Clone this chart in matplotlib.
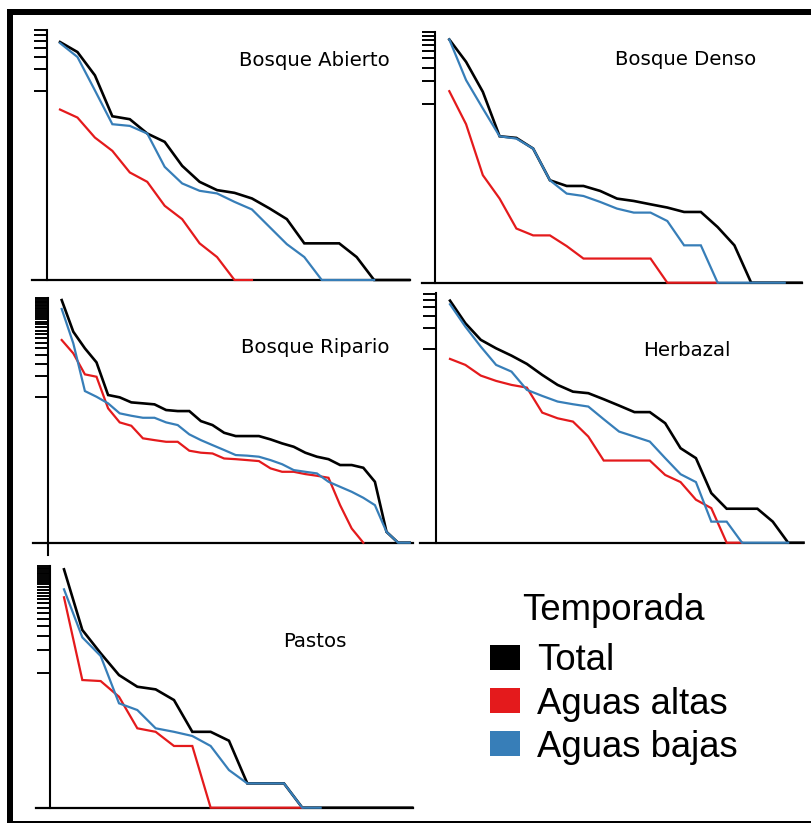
import matplotlib
matplotlib.use("Agg")
import matplotlib.pyplot as plt
import matplotlib.transforms as mtransforms
from matplotlib.patches import Patch, Rectangle
from matplotlib.ticker import NullLocator
import numpy as np

W, H = 811, 824          # tamaño de la figura en píxeles (dpi 100)

SERIES = ["Total", "Aguas altas", "Aguas bajas"]
COLORS = ["#000000", "#E41A1C", "#377EB8"]
LW = [1.9, 1.6, 1.6]

# abundancia por rango de especie (0 = especie ausente en esa temporada)
abierto_total = [4.80, 3.48, 1.65, 0.445, 0.405, 0.256, 0.196, 0.091, 0.0545, 0.0418, 0.0383,
                 0.032, 0.0233, 0.0165, 0.0076, 0.0076, 0.0076, 0.0049, 0, 0, 0]
abierto_altas = [0.552, 0.427, 0.225, 0.147, 0.0736, 0.0545, 0.0253, 0.0165, 0.0076, 0.0049, 0, 0]
abierto_bajas = [4.64, 2.97, 1.02, 0.345, 0.327, 0.256, 0.088, 0.0518, 0.0409, 0.0376, 0.0287,
                 0.0225, 0.0129, 0.0074, 0.0049, 0, 0, 0, 0]

denso_total = [7.13, 3.59, 1.43, 0.366, 0.348, 0.251, 0.0949, 0.0797, 0.0797, 0.0684, 0.0541,
               0.0503, 0.0454, 0.0411, 0.0359, 0.0359, 0.0226, 0.0129, 0, 0, 0, 0]
denso_altas = [1.46, 0.530, 0.111, 0.0541, 0.0216, 0.0175, 0.0175, 0.0126, 0.0086, 0.0086,
               0.0086, 0.0086, 0.0086, 0, 0, 0, 0]
denso_bajas = [7.13, 2.05, 0.858, 0.366, 0.341, 0.251, 0.0949, 0.0631, 0.0586, 0.0488, 0.0398,
               0.0352, 0.0352, 0.0272, 0.0129, 0.0129, 0, 0, 0, 0, 0]

ripario_total = [24.5, 8.65, 5.01, 3.16, 1.08, 1.0, 0.848, 0.821, 0.794, 0.659, 0.637, 0.637,
                 0.458, 0.402, 0.312, 0.280, 0.280, 0.280, 0.251, 0.220, 0.197, 0.162, 0.142,
                 0.131, 0.108, 0.108, 0.0987, 0.0623, 0.012, 0, 0]
ripario_altas = [6.59, 4.25, 2.13, 1.97, 0.697, 0.439, 0.393, 0.260, 0.245, 0.232, 0.232, 0.173,
                 0.162, 0.158, 0.134, 0.131, 0.127, 0.123, 0.0968, 0.0865, 0.0865, 0.0802,
                 0.0759, 0.0710, 0.0289, 0.0134, 0]
ripario_bajas = [18.3, 5.91, 1.23, 1.02, 0.821, 0.591, 0.546, 0.511, 0.511, 0.439, 0.402, 0.296,
                 0.245, 0.208, 0.177, 0.150, 0.147, 0.142, 0.127, 0.111, 0.0915, 0.0865, 0.082,
                 0.0623, 0.0528, 0.0448, 0.0368, 0.0289, 0.012, 0, 0]

herbazal_total = [4.90, 2.33, 1.35, 1.02, 0.802, 0.611, 0.425, 0.306, 0.245, 0.233, 0.191,
                  0.155, 0.125, 0.125, 0.0868, 0.0381, 0.0275, 0.0087, 0.0052, 0.0052, 0.0052,
                  0.0034, 0, 0]
herbazal_altas = [0.720, 0.591, 0.416, 0.349, 0.306, 0.280, 0.123, 0.102, 0.0915, 0.0559,
                  0.0254, 0.0254, 0.0254, 0.0254, 0.0158, 0.0125, 0.0070, 0.0053, 0, 0]
herbazal_bajas = [4.35, 2.08, 1.08, 0.591, 0.474, 0.260, 0.213, 0.177, 0.162, 0.150, 0.0989,
                  0.0659, 0.0559, 0.0474, 0.0275, 0.0162, 0.0125, 0.0034, 0.0034, 0, 0, 0, 0]

pastos_total = [22.0, 3.59, 1.79, 0.933, 0.658, 0.608, 0.442, 0.171, 0.171, 0.131, 0.0366,
                0.0366, 0.0366, 0, 0, 0, 0, 0, 0, 0]
pastos_altas = [9.53, 0.804, 0.780, 0.488, 0.190, 0.171, 0.112, 0.112, 0, 0, 0, 0, 0, 0]
pastos_bajas = [12.1, 2.88, 1.65, 0.401, 0.328, 0.190, 0.171, 0.151, 0.112, 0.0545, 0.0366,
                0.0366, 0.0366, 0, 0]

TITLES = ["Bosque Abierto", "Bosque Denso", "Bosque Ripario", "Herbazal", "Pastos"]
DATA = [
    (abierto_total, abierto_altas, abierto_bajas),
    (denso_total, denso_altas, denso_bajas),
    (ripario_total, ripario_altas, ripario_bajas),
    (herbazal_total, herbazal_altas, herbazal_bajas),
    (pastos_total, pastos_altas, pastos_bajas),
]

# geometría en píxeles: caja (izq, der, arriba, abajo), x del rango 1, paso, x del eje y,
# límites y (log), posición del título (centro x, línea base y)
LAYOUT = [
    ((32, 410, 30, 280), 60.0, 17.45, 46.7, (0.00235, 7.05), (314.5, 66)),
    ((421.7, 801.7, 31.7, 282.7), 449.3, 16.77, 435.0, (0.0041, 9.05), (686, 65)),
    ((33.3, 413.3, 297.7, 542.7), 61.7, 11.6, 48.3, (0.0084, 26.5), (315, 353.3)),
    ((420, 803.3, 293, 542.7), 450.0, 15.37, 436.0, (0.0017, 6.3), (687, 355.7)),
    ((36, 413.3, 566, 807.7), 64.0, 18.33, 50.0, (0.0177, 24.3), (315, 646.7)),
]

LEG_FONT = {"family": "Liberation Sans", "size": 26.3}


def fx(px):
    return px / W


def fy(py):
    return 1 - py / H


def main():
    fig = plt.figure(figsize=(W / 100, H / 100), dpi=100)

    for k, (series, lay) in enumerate(zip(DATA, LAYOUT)):
        (l, r, t, b), x0, dx, yax, ylim, tpos = lay
        ax = fig.add_axes([fx(l), fy(b), (r - l) / W, (b - t) / H])
        ax.set_yscale("log")
        ax.set_xlim(1 + (l - x0) / dx, 1 + (r - x0) / dx)
        ax.set_ylim(*ylim)
        floor = ylim[0]
        for vals, c, lw in zip(series, COLORS, LW):
            y = np.asarray(vals, dtype=float)
            y = np.where(y > 0, y, floor)          # ausentes -> borde inferior del panel
            x = np.arange(1, len(y) + 1)
            ax.plot(x, y, color=c, lw=lw, zorder=3, clip_on=False,
                    solid_joinstyle="miter")
        for s in ("top", "right"):
            ax.spines[s].set_visible(False)
        ax.spines["left"].set_position(("data", 1 + (yax - x0) / dx))
        ax.spines["left"].set_linewidth(1.5)
        ax.spines["bottom"].set_linewidth(1.6)
        ax.set_xticks([])
        ax.set_yticks(np.arange(1, int(ylim[1]) + 1))
        ax.yaxis.set_minor_locator(NullLocator())
        ax.set_yticklabels([])
        ax.tick_params(axis="y", length=9.4, width=1.4, direction="out")
        ax.patch.set_alpha(0)
        fig.text(fx(tpos[0]), fy(tpos[1]), TITLES[k], ha="center", va="baseline",
                 fontsize=14.2, family="DejaVu Sans")
        if k == 2:
            # el eje y de este panel baja un poco por debajo de la base
            tr = mtransforms.blended_transform_factory(ax.transData, ax.transAxes)
            xs = 1 + (yax - x0) / dx
            ax.plot([xs, xs], [0, -12 / (b - t)], color="black", lw=1.5,
                    transform=tr, clip_on=False)

    # leyenda: título aparte para controlar la separación
    fig.text(fx(613), fy(620), "Temporada", ha="center", va="baseline", **LEG_FONT)
    handles = [Patch(facecolor=c, edgecolor="none") for c in COLORS]
    fig.legend(handles, SERIES, loc="center", bbox_to_anchor=(fx(614), fy(704)),
               frameon=False, prop=LEG_FONT, handlelength=0.82, handleheight=0.68,
               handletextpad=0.45, labelspacing=0.22, borderpad=0)

    # marco parcial de la figura
    fig.add_artist(Rectangle((fx(7), fy(15)), (W - 7) / W, 6 / H, transform=fig.transFigure,
                             facecolor="black", edgecolor="none"))
    fig.add_artist(Rectangle((fx(7), fy(822.5)), 6 / W, (822.5 - 9) / H,
                             transform=fig.transFigure, facecolor="black", edgecolor="none"))
    fig.add_artist(Rectangle((fx(7), fy(822.5)), (W - 7) / W, 1.5 / H,
                             transform=fig.transFigure, facecolor="black", edgecolor="none"))

    fig.savefig("out.png", dpi=100)
    return 0


if __name__ == "__main__":
    raise SystemExit(main())
